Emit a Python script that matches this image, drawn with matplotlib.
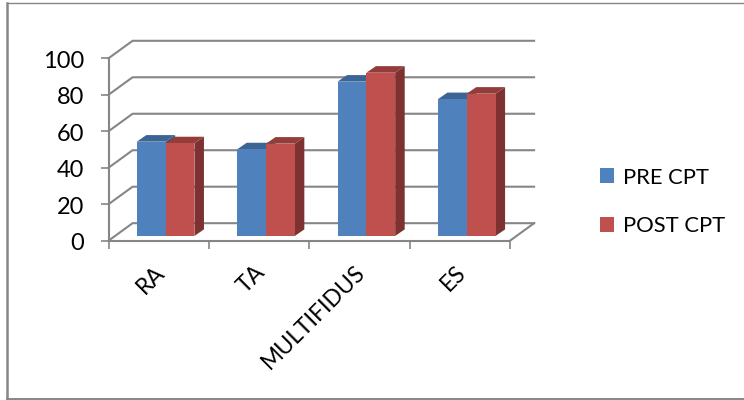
import numpy as np
import matplotlib
matplotlib.use("Agg")
import matplotlib.pyplot as plt
from matplotlib.lines import Line2D
from matplotlib.patches import Patch, Polygon
from matplotlib.transforms import ScaledTranslation

plt.rcParams['font.family'] = ['Lato', 'DejaVu Sans']

# values
categories = ['RA', 'TA', 'MULTIFIDUS', 'ES']
pre_cpt = [51.7, 47.5, 84.6, 75.0]
post_cpt = [50.8, 50.6, 89.5, 78.0]
y_ticks = [0, 20, 40, 60, 80, 100]

GRID = '#868686'
W, H = 744, 400

# fake 3d depth, in data units
WALL_DX, WALL_DY = 0.24, 9.6
BAR_DX, BAR_DY = 0.095, 3.6
BAR_LIFT = 2.6
BAR_W = 0.287
BAR_SHIFT = 0.069


def draw_bars(ax, xs, values, front, top, side, z):
    for x, v in zip(xs, values):
        y1 = v + BAR_LIFT
        ax.add_patch(Polygon([(x + BAR_W, BAR_LIFT), (x + BAR_W + BAR_DX, BAR_LIFT + BAR_DY),
                              (x + BAR_W + BAR_DX, y1 + BAR_DY), (x + BAR_W, y1)],
                             fc=side, ec='none', zorder=z, clip_on=False))
        ax.add_patch(Polygon([(x, y1), (x + BAR_DX, y1 + BAR_DY),
                              (x + BAR_W + BAR_DX, y1 + BAR_DY), (x + BAR_W, y1)],
                             fc=top, ec='none', zorder=z, clip_on=False))
    ax.bar(xs, values, width=BAR_W, bottom=BAR_LIFT, align='edge', color=front,
           edgecolor='none', zorder=z + 0.1, clip_on=False)


fig = plt.figure(figsize=(W / 100, H / 100), dpi=100)
ax = fig.add_axes([108.5 / W, 1 - 240.7 / H, 401.5 / W, 182.4 / H])
ax.set_xlim(0, len(categories))
ax.set_ylim(0, 100)

# back wall gridlines and floor
for v in y_ticks:
    ax.plot([0, WALL_DX, len(categories) + WALL_DX], [v, v + WALL_DY, v + WALL_DY],
            color=GRID, lw=1.5, clip_on=False, zorder=1)
ax.plot([len(categories), len(categories) + WALL_DX], [0, WALL_DY],
        color=GRID, lw=1.5, clip_on=False, zorder=1)

centers = np.arange(len(categories)) + 0.5 + BAR_SHIFT
draw_bars(ax, centers - BAR_W, pre_cpt, '#4F81BD', '#3C6494', '#345780', 2)
draw_bars(ax, centers, post_cpt, '#C0504D', '#943C39', '#7D3231', 3)

for s in ['top', 'right']:
    ax.spines[s].set_visible(False)
for s in ['left', 'bottom']:
    ax.spines[s].set_color(GRID)
    ax.spines[s].set_linewidth(1.5)

ax.set_yticks(y_ticks)
ax.tick_params(axis='y', length=5.8, width=1.2, color=GRID, pad=12, labelsize=17)
ylabels = ax.get_yticklabels()
for lab in ylabels:
    lab.set_transform(lab.get_transform() + ScaledTranslation(0, -0.8 / 72, fig.dpi_scale_trans))
ax.set_xticks(np.arange(len(categories) + 1))
ax.set_xticklabels([])
ax.tick_params(axis='x', which='major', length=5.8, width=1.2, color=GRID)
ax.set_xticks(np.arange(len(categories)) + 0.5, minor=True)
labels = ax.set_xticklabels(categories, minor=True, rotation=45, ha='right', va='top',
                            rotation_mode='anchor', fontsize=16.5)
ax.tick_params(axis='x', which='minor', length=0, pad=15)
# labels sit a little left of the category centre
nudge = ScaledTranslation(-3.5 / 72, 0, fig.dpi_scale_trans)
for lab in labels:
    lab.set_transform(lab.get_transform() + nudge)

handles = [Patch(fc='#4F81BD', label='PRE CPT'), Patch(fc='#C0504D', label='POST CPT')]
fig.legend(handles=handles, loc='center left', bbox_to_anchor=(582 / W, 1 - 202 / H),
           frameon=False, fontsize=15.8, handlelength=0.68, handleheight=0.68,
           handletextpad=0.4, labelspacing=1.32, borderpad=0.3)

# outer frame, open on the right
for xs, ys, lw in [([7, 7], [3, 398.5], 1.8), ([7, W], [3, 3], 1.0), ([7, W], [398.5, 398.5], 1.4)]:
    fig.add_artist(Line2D([x / W for x in xs], [1 - y / H for y in ys], color=GRID, lw=lw))

fig.savefig('out.png', dpi=100)
